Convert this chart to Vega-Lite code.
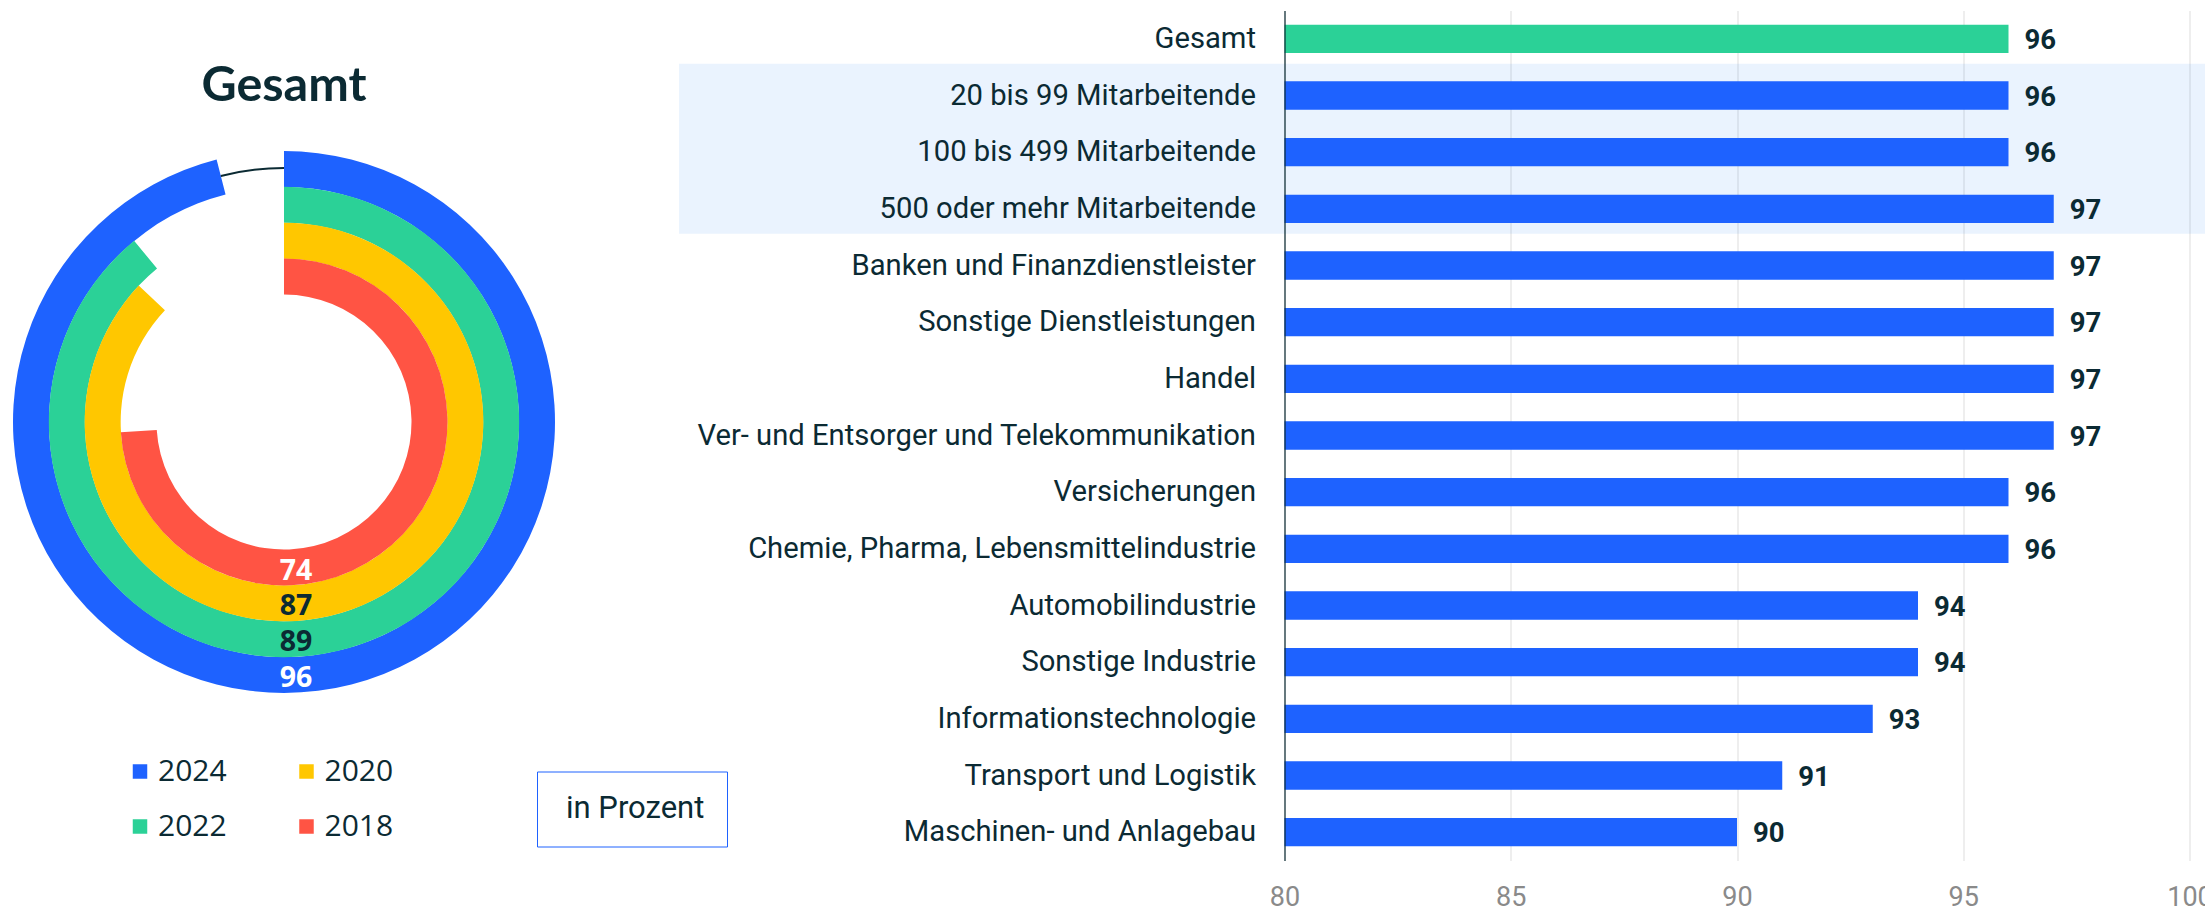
{
  "$schema": "https://vega.github.io/schema/vega-lite/v6.json",
  "background": "white",
  "padding": {"left": 0, "top": 9.5, "right": 0, "bottom": 0},
  "autosize": {"type": "pad"},
  "bounds": "flush",
  "spacing": 716.5,
  "config": {
    "font": "Roboto",
    "view": {"stroke": "transparent"}
  },
  "hconcat": [
    {
      "width": 568,
      "height": 823,
      "title": {"text": "Gesamt", "font": "Lato", "fontSize": 48.5, "fontWeight": "bold", "color": "#0B2A33", "anchor": "middle", "frame": "group", "baseline": "alphabetic", "offset": -139},
      "data": {"values": [
        {"year": 2024, "value": 96},
        {"year": 2022, "value": 89},
        {"year": 2020, "value": 87},
        {"year": 2018, "value": 74}
      ]},
      "layer": [
        {
          "mark": {"type": "arc", "radius2Offset": -36},
          "encoding": {
            "theta": {"field": "value", "type": "quantitative", "stack": null, "scale": {"domain": [0, 100], "range": [0, 6.283185307]}},
            "theta2": {"datum": 0},
            "radius": {"field": "year", "type": "quantitative", "scale": {"type": "linear", "domain": [2018, 2024], "range": [163.5, 271], "zero": false}},
            "radius2": {"field": "year"},
            "color": {"field": "year", "type": "nominal",
              "scale": {"domain": [2024, 2020, 2022, 2018], "range": ["#1E62FF", "#FFC700", "#2BD197", "#FF5444"]},
              "legend": {"title": null, "orient": "none", "legendX": 125, "legendY": 746, "columns": 2, "direction": "horizontal",
                "symbolType": "square", "symbolSize": 210, "symbolStrokeWidth": 0, "labelFontSize": 30, "labelFont": "Open Sans", "labelColor": "#0B2A33",
                "labelOffset": 3, "columnPadding": 64.5, "rowPadding": 25, "padding": 0}}
          }
        },
        {
          "transform": [{"filter": "datum.year == 2024"}],
          "mark": {"type": "arc", "radiusOffset": -16, "radius2Offset": -18, "color": "#0B2A33"},
          "encoding": {
            "theta": {"field": "value", "type": "quantitative", "stack": null},
            "theta2": {"datum": 100},
            "radius": {"field": "year", "type": "quantitative"},
            "radius2": {"field": "year"}
          }
        },
        {
          "mark": {"type": "text", "radiusOffset": -18, "align": "center", "dx": 12, "dy": 3, "baseline": "middle", "fontSize": 28.5, "fontWeight": "bold", "font": "Open Sans"},
          "encoding": {
            "theta": {"datum": 50, "type": "quantitative"},
            "radius": {"field": "year", "type": "quantitative"},
            "text": {"field": "value", "type": "quantitative"},
            "color": {"condition": {"test": "datum.year == 2024 || datum.year == 2018", "value": "white"}, "value": "#0B2A33"}
          }
        },
        {
          "transform": [{"filter": "datum.year == 2024"}],
          "mark": {"type": "point", "opacity": 0, "size": 0},
          "encoding": {
            "shape": {"datum": "in Prozent", "type": "nominal",
              "legend": {"title": null, "orient": "none", "legendX": 537, "legendY": 761, "symbolSize": 0, "symbolOpacity": 0, "symbolStrokeWidth": 0,
                "labelFontSize": 31, "labelFont": "Roboto", "labelColor": "#0B2A33", "labelOffset": -24, "padding": 22, "strokeColor": "#1E62FF"}}
          }
        }
      ]
    },
    {
      "width": 905,
      "height": 850,
      "data": {"values": [
        {"label": "Gesamt", "kategorie": "Gesamt", "value": 96},
        {"label": "20 bis 99 Mitarbeitende", "kategorie": "Größe", "value": 96},
        {"label": "100 bis 499 Mitarbeitende", "kategorie": "Größe", "value": 96},
        {"label": "500 oder mehr Mitarbeitende", "kategorie": "Größe", "value": 97},
        {"label": "Banken und Finanzdienstleister", "kategorie": "Branche", "value": 97},
        {"label": "Sonstige Dienstleistungen", "kategorie": "Branche", "value": 97},
        {"label": "Handel", "kategorie": "Branche", "value": 97},
        {"label": "Ver- und Entsorger und Telekommunikation", "kategorie": "Branche", "value": 97},
        {"label": "Versicherungen", "kategorie": "Branche", "value": 96},
        {"label": "Chemie, Pharma, Lebensmittelindustrie", "kategorie": "Branche", "value": 96},
        {"label": "Automobilindustrie", "kategorie": "Branche", "value": 94},
        {"label": "Sonstige Industrie", "kategorie": "Branche", "value": 94},
        {"label": "Informationstechnologie", "kategorie": "Branche", "value": 93},
        {"label": "Transport und Logistik", "kategorie": "Branche", "value": 91},
        {"label": "Maschinen- und Anlagebau", "kategorie": "Branche", "value": 90}
      ]},
      "encoding": {
        "y": {"field": "label", "type": "nominal", "sort": null,
          "scale": {"domain": ["Gesamt", "20 bis 99 Mitarbeitende", "100 bis 499 Mitarbeitende", "500 oder mehr Mitarbeitende", "Banken und Finanzdienstleister", "Sonstige Dienstleistungen", "Handel", "Ver- und Entsorger und Telekommunikation", "Versicherungen", "Chemie, Pharma, Lebensmittelindustrie", "Automobilindustrie", "Sonstige Industrie", "Informationstechnologie", "Transport und Logistik", "Maschinen- und Anlagebau"],
            "paddingInner": 0.5, "paddingOuter": 0.25},
          "axis": {"title": null, "ticks": false, "labelFontSize": 29.2, "labelFont": "Roboto", "labelColor": "#0B2A33", "labelPadding": 29, "labelLimit": 800,
            "domain": true, "domainColor": "#0B2A33", "domainWidth": 1.2, "zindex": 1}}
      },
      "layer": [
        {
          "transform": [{"filter": "datum.kategorie == 'Größe'"}],
          "mark": {"type": "rect", "height": {"band": 2}, "yOffset": -3.5, "color": "#2D87F5", "opacity": 0.1},
          "encoding": {
            "x": {"datum": 66.62, "type": "quantitative"},
            "x2": {"datum": 100.4}
          }
        },
        {
          "mark": {"type": "bar"},
          "encoding": {
            "x": {"field": "value", "type": "quantitative",
              "scale": {"domain": [80, 100], "zero": false, "nice": false},
              "axis": {"title": null, "values": [80, 85, 90, 95, 100], "grid": true, "gridColor": "#DDDDDD", "domain": false, "ticks": false,
                "labelColor": "#8A8A8A", "labelFontSize": 27, "labelFont": "Roboto", "labelPadding": 24, "labelFlush": false, "zindex": 0}},
            "x2": {"datum": 80},
            "color": {"condition": {"test": "datum.kategorie == 'Gesamt'", "value": "#2BD197"}, "value": "#1E62FF"}
          }
        },
        {
          "mark": {"type": "text", "align": "left", "baseline": "middle", "dx": 16, "dy": 2, "fontSize": 27.5, "fontWeight": "bold", "font": "Roboto", "color": "#0B2A33"},
          "encoding": {
            "x": {"field": "value", "type": "quantitative"},
            "text": {"field": "value", "type": "quantitative"}
          }
        }
      ]
    }
  ]
}
